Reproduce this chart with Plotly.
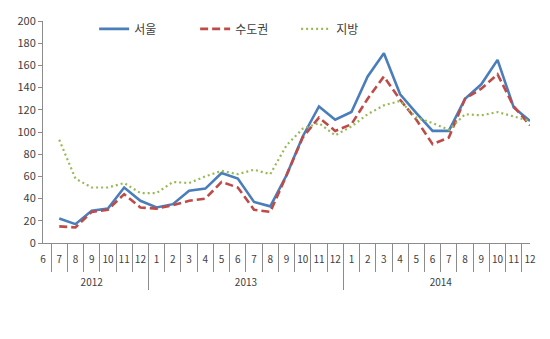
import plotly.graph_objects as go

year_names = ["2012"] * 7 + ["2013"] * 12 + ["2014"] * 12
month_nums = list(range(6, 13)) + list(range(1, 13)) * 2
# years drawn one line lower (as in the reference) via a leading line break
years = ["<br>" + y for y in year_names]
# 2012 month labels carry an invisible zero-width space so that plotly's
# multicategory ordering keeps 1..12 in calendar order for 2013/2014
months = [str(m) + ("\u200b" if y == "2012" else "") for y, m in zip(year_names, month_nums)]

seoul = [None, 22, 17, 29, 31, 50, 38, 32, 35, 47, 49, 63, 58, 37, 33, 61, 96, 123, 111, 118,
         150, 171, 134, 117, 101, 101, 130, 143, 165, 122, 110]
capital = [None, 15, 14, 28, 30, 44, 32, 31, 34, 38, 40, 55, 50, 30, 28, 61, 95, 113, 101, 107,
           130, 150, 129, 111, 89, 95, 130, 139, 152, 123, 106]
regional = [None, 93, 58, 50, 50, 54, 45, 45, 55, 54, 60, 65, 62, 66, 62, 88, 103, 108, 97, 105,
            116, 124, 128, 113, 108, 102, 116, 115, 118, 114, 110]

names = ["서울", "수도권", "지방"]
colors = ["#4A7EBB", "#BE4B48", "#98B954"]
dashes = ["solid", "8px,4px", "2px,3px"]
widths = [2.6, 2.6, 2.2]
series = [seoul, capital, regional]

fig = go.Figure()
for name, vals, c, d, w in zip(names, series, colors, dashes, widths):
    fig.add_trace(go.Scatter(
        x=[years, months], y=vals, name=name, mode="lines",
        line=dict(color=c, dash=d, width=w), connectgaps=False,
    ))

font_family = "Noto Sans CJK KR, Noto Sans, DejaVu Sans"
fig.update_layout(
    width=550, height=339,
    margin=dict(l=43, r=20, t=16, b=96),
    paper_bgcolor="white", plot_bgcolor="white",
    font=dict(family=font_family, size=11, color="#404040"),
    showlegend=True,
    legend=dict(orientation="h", x=0.105, y=1.03, xanchor="left", yanchor="top",
                entrywidth=56, entrywidthmode="pixels",
                font=dict(size=12, color="#404040"), bgcolor="rgba(0,0,0,0)"),
)
fig.update_yaxes(range=[0, 200], dtick=20, tick0=0, showgrid=False, zeroline=False,
                 showline=True, linecolor="#8C8C8C", linewidth=1,
                 ticks="outside", ticklen=4, tickcolor="#8C8C8C",
                 tickfont=dict(size=11, color="#404040"))
fig.update_xaxes(type="multicategory", showgrid=False, showline=True,
                 linecolor="#8C8C8C", linewidth=1, tickangle=0,
                 ticklabelstandoff=7,
                 ticks="outside", tickson="boundaries", ticklen=28, tickcolor="#8C8C8C",
                 showdividers=True, dividercolor="#8C8C8C", dividerwidth=1,
                 tickfont=dict(size=10, color="#404040"))

fig.write_html("out.html")
